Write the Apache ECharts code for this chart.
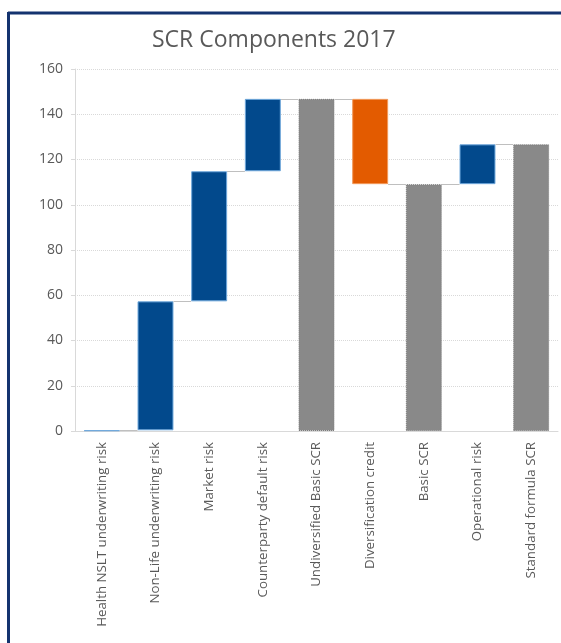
<!DOCTYPE html>
<html><head><meta charset="utf-8">
<script src="https://cdn.jsdelivr.net/npm/echarts@6/dist/echarts.min.js"></script>
<style>html,body{margin:0;padding:0;background:#fff}#c{width:561px;height:643px}</style>
</head><body><div id="c"></div>
<script>
var categories = ["Health NSLT underwriting risk","Non-Life underwriting risk","Market risk","Counterparty default risk","Undiversified Basic SCR","Diversification credit","Basic SCR","Operational risk","Standard formula SCR"];
// component values (totals given as their full height)
var values = [0.3, 57.0, 57.5, 32.0, 146.8, -37.7, 109.1, 17.6, 126.7];
var isTotal = [false, false, false, false, true, false, true, false, true];
var kinds = ["up","up","up","up","total","down","total","up","total"];
var yTicks = [0, 160, 20];

var fills = {up:"#02498C", total:"#898989", down:"#E35B00"};
var borders = {up:"#6FA8DC", total:"#7A7A7A", down:"#F29A5A"};

var base = [], shown = [], levels = [];
var run = 0;
for (var i = 0; i < values.length; i++) {
  var v = values[i];
  if (isTotal[i]) { base.push(0); shown.push(v); run = v; }
  else if (v >= 0) { base.push(run); shown.push(v); run += v; }
  else { base.push(run + v); shown.push(-v); run += v; }
  levels.push(run);
}
var connData = [];
for (var j = 0; j < levels.length - 1; j++) connData.push([j, levels[j]]);

var GAP = 0.667;
var chart = echarts.init(document.getElementById('c'));
chart.setOption({
  animation: false,
  title: {text: "SCR Components 2017", left: 147, top: 24,
    textStyle: {fontFamily: "Open Sans", fontSize: 23, fontWeight: 'normal', color: '#595959'}},
  grid: {left: 75, right: 3, top: 69, bottom: 212, containLabel: false},
  xAxis: {type: 'category', data: categories,
    axisLine: {lineStyle: {color: '#D9D9D9'}}, axisTick: {show: false},
    axisLabel: {rotate: 90, interval: 0, margin: 11, color: '#595959', fontFamily: "Open Sans", fontSize: 13.3}},
  yAxis: {type: 'value', min: yTicks[0], max: yTicks[1], interval: yTicks[2],
    axisLine: {show: true, lineStyle: {color: '#D9D9D9'}},
    axisTick: {show: true, length: 4, lineStyle: {color: '#D9D9D9'}},
    splitLine: {lineStyle: {color: '#D9D9D9', type: 'dotted'}},
    axisLabel: {color: '#595959', fontFamily: "Open Sans", fontSize: 14, margin: 12}},
  graphic: [
    {type: 'line', shape: {x1: 8, y1: 13, x2: 561, y2: 13}, style: {stroke: '#14336F', lineWidth: 3}},
    {type: 'line', shape: {x1: 8.5, y1: 12, x2: 8.5, y2: 643}, style: {stroke: '#14336F', lineWidth: 3}}
  ],
  series: [
    {type: 'bar', stack: 'w', data: base, itemStyle: {color: 'transparent'}, barCategoryGap: '33%', silent: true},
    {type: 'bar', stack: 'w', barCategoryGap: '33%',
      data: shown.map(function (v, k) {
        return {value: v, itemStyle: {color: fills[kinds[k]], borderColor: borders[kinds[k]], borderWidth: 1,
          borderType: kinds[k] === 'total' ? 'dotted' : 'solid'}};
      })},
    {type: 'custom', data: connData, silent: true, z: 1,
      renderItem: function (params, api) {
        var idx = api.value(0), lvl = api.value(1);
        var p = api.coord([idx, lvl]);
        var w = api.size([1, 0])[0];
        var bw = w * GAP;
        return {type: 'line', shape: {x1: p[0] + bw / 2, y1: Math.round(p[1]) + 0.5, x2: p[0] + w - bw / 2, y2: Math.round(p[1]) + 0.5},
          style: {stroke: '#BFBFBF', lineWidth: 1}};
      }}
  ]
});
</script></body></html>
